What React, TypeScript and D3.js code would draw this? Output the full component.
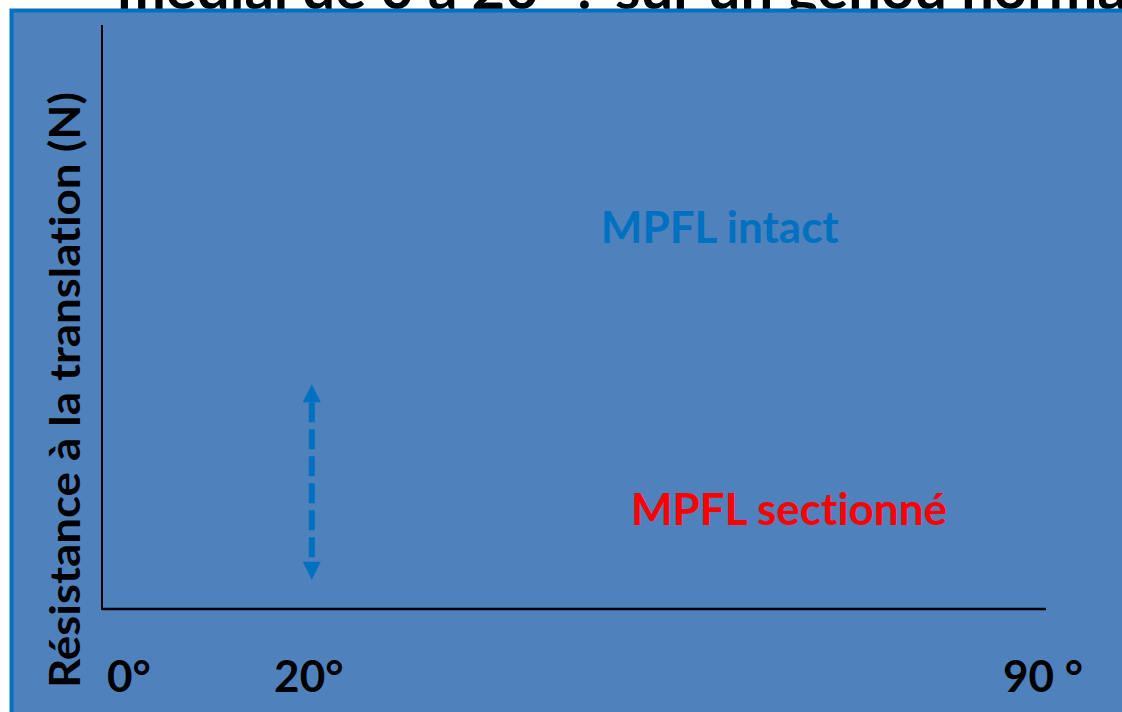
import React from "react";
import * as d3 from "d3";

const W = 1122;
const H = 712;

// Data
const xTickValues = [0, 20, 90];
const xTickLabels = ["0°", "20°", "90 °"];
const yDomain = [0, 100];
const curveLabels = ["MPFL intact", "MPFL sectionné"];
const curveLabelX = [58.9, 65.5];
const curveLabelY = [62.7, 14.4];
const arrowAngle = 20;
const arrowRange = [5, 38.5];
const yAxisTitle = "Résistance à la translation (N)";
const headerParts = ["médial de 0 à 20° :", "sur un genou normal"];

export default function App() {
  const x = d3.scaleLinear().domain([0, 90]).range([102, 1046]);
  const y = d3.scaleLinear().domain(yDomain).range([609, 25]);
  const font = "Lato, 'Open Sans', 'DejaVu Sans', sans-serif";
  const blue = "#0070C0";
  const noLig = { fontVariantLigatures: "none", fontFeatureSettings: "'liga' 0, 'clig' 0" } as React.CSSProperties;

  const ax = x(arrowAngle);
  const yTop = y(arrowRange[1]);
  const yBot = y(arrowRange[0]);
  const head = 18;
  const hw = 9;

  return (
    <svg
      width={W}
      height={H}
      style={{ position: "absolute", left: 0, top: 0, display: "block", background: "#fff" }}
    >
      <g style={noLig}>
        <text x={592} y={9} textAnchor="end" fontFamily={font} fontWeight="bold" fontSize={58} fill="#000">
          {headerParts[0]}
        </text>
        <text x={615} y={9} textAnchor="start" fontFamily={font} fontWeight="bold" fontSize={58} fill="#000">
          {headerParts[1]}
        </text>
      </g>
      <rect x={11.5} y={10.5} width={W + 20} height={H + 20} fill="#4F81BD" stroke={blue} strokeWidth={4} />

      {/* axes */}
      <line x1={x(0)} x2={x(0)} y1={y(100)} y2={y(0) + 1} stroke="#000" strokeWidth={2} />
      <line x1={x(0)} x2={x(90)} y1={y(0)} y2={y(0)} stroke="#000" strokeWidth={2.5} />

      <g style={noLig}>
        {xTickValues.map((v, i) => (
          <text
            key={i}
            x={i === 0 ? x(v) + 5 : x(v) - 3}
            y={692}
            textAnchor={i === 0 ? "start" : "middle"}
            fontFamily={font}
            fontWeight="bold"
            fontSize={44}
            fill="#000"
          >
            {xTickLabels[i]}
          </text>
        ))}

        <text
          transform={`translate(80, ${y(50) + 73}) rotate(-90)`}
          textAnchor="middle"
          fontFamily={font}
          fontWeight="bold"
          fontSize={42}
          textLength={596}
          lengthAdjust="spacingAndGlyphs"
          fill="#000"
        >
          {yAxisTitle}
        </text>

        {curveLabels.map((t, i) => (
          <text
            key={t}
            x={x(curveLabelX[i])}
            y={y(curveLabelY[i])}
            textAnchor="middle"
            fontFamily={font}
            fontWeight="bold"
            fontSize={44}
            fill={i === 0 ? blue : "#FF0000"}
          >
            {t}
          </text>
        ))}
      </g>

      {/* double arrow */}
      <line
        x1={ax}
        x2={ax}
        y1={yTop + head}
        y2={yBot - head}
        stroke={blue}
        strokeWidth={6}
        strokeDasharray="20 7"
      />
      <path d={`M${ax},${yTop} L${ax - hw},${yTop + head} L${ax + hw},${yTop + head} Z`} fill={blue} />
      <path d={`M${ax},${yBot} L${ax - hw},${yBot - head} L${ax + hw},${yBot - head} Z`} fill={blue} />
    </svg>
  );
}
